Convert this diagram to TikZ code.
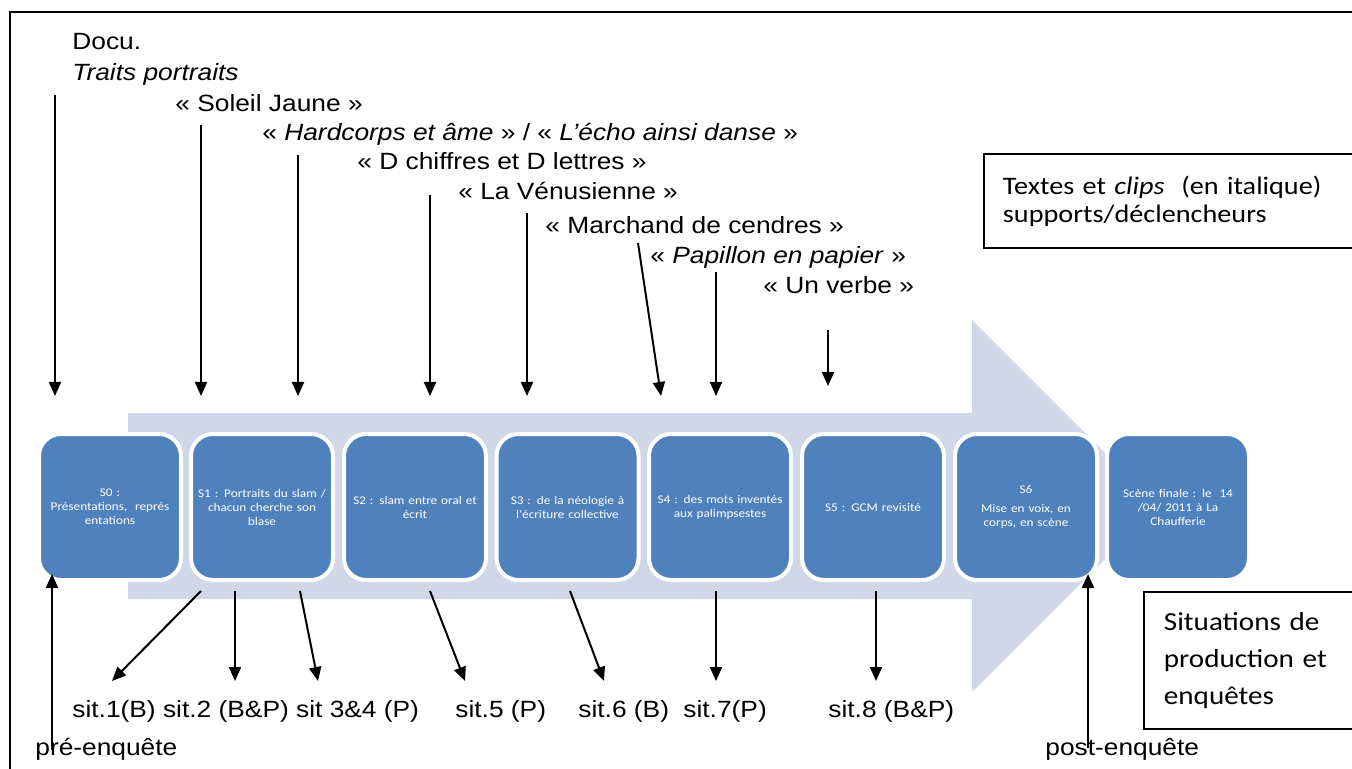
\documentclass[tikz,border=0pt]{standalone}
\usepackage{fontspec}
\setmainfont{Liberation Sans}[FakeStretch=1.12]
\newfontfamily\calfont{Carlito}[FakeStretch=1.12]
\usetikzlibrary{arrows.meta}
\definecolor{boxblue}{HTML}{4F81BD}
\definecolor{arrowlight}{HTML}{D0D8E8}
\begin{document}
\begin{tikzpicture}[x=0.5pt,y=-0.5pt,
  sbox/.style={draw=white,line width=2pt,fill=boxblue,rounded corners=11pt,
    minimum width=71pt,minimum height=73pt,text width=66pt,align=center,
    text=white,font=\calfont\fontsize{5.9}{7}\selectfont,inner sep=0pt},
  toptxt/.style={anchor=base west,inner sep=0pt,font=\fontsize{11.75}{14}\selectfont},
  legend/.style={draw=black,line width=0.9pt,anchor=north west,align=left,inner sep=0pt},
  arr/.style={line width=1pt,-{Triangle[length=7pt,width=6pt]}}]
\useasboundingbox (0,0) rectangle (1352,769);
% outer frame
\draw[line width=1.2pt] (10,12) rectangle (1420,820);
% big arrow
\fill[arrowlight] (128,413) -- (972,413) -- (972,320) -- (1158,506) -- (972,692) -- (972,599) -- (128,599) -- cycle;
% boxes
\node[sbox] (s0) at (110,507) {S0 :\\Présentations,\ \ représ\\entations};
\node[sbox] (s1) at (262,507) {S1 : Portraits du slam /\\chacun cherche son\\blase};
\node[sbox] (s2) at (415,507) {S2 : slam entre oral et\\écrit};
\node[sbox] (s3) at (567.5,507) {S3 : de la néologie à\\l'écriture collective};
\node[sbox] (s4) at (720,507) {S4 : des mots inventés\\aux palimpsestes};
\node[sbox] (s5) at (873,507) {S5 : GCM revisité};
\node[sbox] (s6) at (1026,507) {S6\\[2.5pt]Mise en voix, en\\corps, en scène};
\node[sbox] (sf) at (1178,507) {Scène finale : le\ \ 14\\/04/ 2011 à La\\Chaufferie};
% top texts
\node[toptxt] (t0) at (72,50) {Docu.};
\node[toptxt] (t0b) at (72,81) {\itshape Traits portraits};
\node[toptxt] (t1) at (175,112) {« Soleil Jaune »};
\node[toptxt] (t2) at (262,141) {« \textit{Hardcorps et âme} » / « \textit{L'écho ainsi danse} »};
\node[toptxt] (t3) at (357,170) {« D chiffres et D lettres »};
\node[toptxt] (t4) at (458,200) {« La Vénusienne »};
\node[toptxt] (t5) at (545,234) {« Marchand de cendres »};
\node[toptxt] (t6) at (650,264) {« \textit{Papillon en papier} »};
\node[toptxt] (t7) at (763,294) {« Un verbe »};
% top arrow coordinates
\coordinate (a0s) at (55,95);   \coordinate (a0e) at (55,396);
\coordinate (a1s) at (201,125); \coordinate (a1e) at (201,396);
\coordinate (a2s) at (298,155); \coordinate (a2e) at (298,396);
\coordinate (a3s) at (430,195); \coordinate (a3e) at (430,396);
\coordinate (a4s) at (527,213); \coordinate (a4e) at (527,396);
\coordinate (a5s) at (638,243); \coordinate (a5e) at (661,396);
\coordinate (a6s) at (716,272); \coordinate (a6e) at (716,396);
\coordinate (a7s) at (828,330); \coordinate (a7e) at (828,386);
\foreach \i in {0,...,7} \draw[arr] (a\i s) -- (a\i e);
% bottom texts
\node[toptxt] (b1) at (72,717) {sit.1(B) sit.2 (B\&P) sit 3\&4 (P)};
\node[toptxt] (b5) at (455,717) {sit.5 (P)};
\node[toptxt] (b6) at (578,717) {sit.6 (B)};
\node[toptxt] (b7) at (683,717) {sit.7(P)};
\node[toptxt] (b8) at (828,717) {sit.8 (B\&P)};
\node[toptxt] (pre) at (35,755) {pré-enquête};
\node[toptxt] (post) at (1045,755) {post-enquête};
% bottom arrows
\coordinate (c1s) at (201,591); \coordinate (c1e) at (112,681);
\coordinate (c2s) at (235,591); \coordinate (c2e) at (235,681);
\coordinate (c3s) at (300,591); \coordinate (c3e) at (318,681);
\coordinate (c5s) at (430,591); \coordinate (c5e) at (465,681);
\coordinate (c6s) at (570,591); \coordinate (c6e) at (604,681);
\coordinate (c7s) at (716,591); \coordinate (c7e) at (716,681);
\coordinate (c8s) at (876,591); \coordinate (c8e) at (876,681);
\foreach \i in {1,2,3,5,6,7,8} \draw[arr] (c\i s) -- (c\i e);
\coordinate (ps) at (52,750); \coordinate (pe) at (52,574);
\coordinate (qs) at (1088,748); \coordinate (qe) at (1088,574);
\draw[arr] (ps) -- (pe);
\draw[arr] (qs) -- (qe);
% legends
\node[legend,minimum width=182.5pt,minimum height=47pt,text width=172pt,inner xsep=9.5pt,font=\calfont\fontsize{12.6}{14}\selectfont] (l1) at (983,153) {Textes et \textit{clips}\ \ (en italique)\\[0pt]supports/déclencheurs};
\node[legend,minimum width=103pt,minimum height=68.5pt,text width=95pt,inner xsep=10pt,font=\calfont\fontsize{13}{18.5}\selectfont] (l2) at (1143,591) {Situations de\\production et\\enquêtes};
\end{tikzpicture}
\end{document}
